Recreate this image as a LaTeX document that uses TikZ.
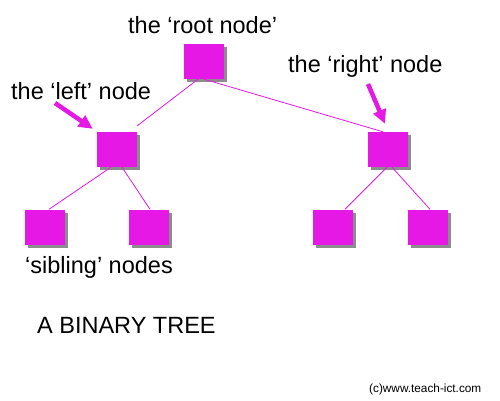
\documentclass[tikz,border=0pt]{standalone}
\usepackage{fontspec}
\setmainfont{Liberation Sans}
\usetikzlibrary{shadows,arrows.meta}
\definecolor{mag}{RGB}{230,24,230}
\begin{document}
\begin{tikzpicture}[x=1pt,y=-1pt,
  tnode/.style={draw=none,fill=mag,minimum width=40pt,minimum height=35pt,inner sep=0pt,
    drop shadow={shadow xshift=3pt,shadow yshift=-3pt,fill=black,opacity=0.45}},
  edge/.style={draw=mag,line width=0.8pt},
  lbl/.style={anchor=base west,inner sep=0pt,font=\fontsize{23.5}{26}\selectfont},
  pointer/.style={draw=mag,line width=4.5pt,-{Triangle[length=14pt,width=13pt]}}]
\useasboundingbox (0,0) rectangle (500,400);
\node[tnode] (root) at (204,61.5) {};
\node[tnode] (left) at (117,149.5) {};
\node[tnode] (right) at (388,149.5) {};
\node[tnode] (l1) at (45,227) {};
\node[tnode] (l2) at (149,227) {};
\node[tnode] (r1) at (333,227) {};
\node[tnode] (r2) at (428,227) {};
\draw[edge] ([xshift=-6pt]root.south) -- ([yshift=6pt]left.north east);
\draw[edge] (root.south) -- ([xshift=-5pt]right.north);
\draw[edge] ([xshift=-6pt]left.south) -- ([xshift=4pt]l1.north);
\draw[edge] ([xshift=5pt]left.south) -- ([xshift=1pt]l2.north);
\draw[edge] ([xshift=-1pt]right.south) -- ([xshift=12pt]r1.north);
\draw[edge] ([xshift=4pt]right.south) -- ([xshift=2pt]r2.north);
\node[lbl] (troot) at (128,33) {the ‘root node’};
\node[lbl] (tright) at (288,72) {the ‘right’ node};
\node[lbl] (tleft) at (11,99) {the ‘left’ node};
\node[lbl] (tsib) at (25,273) {‘sibling’ nodes};
\node[lbl] (ttitle) at (37,333) {A BINARY TREE};
\node[anchor=base west,inner sep=0pt,font=\fontsize{11.8}{13}\selectfont] (copy) at (369,392) {(c)www.teach-ict.com};
\coordinate (a1) at (55,103);
\coordinate (a2) at (368,84);
\draw[pointer] (a1) -- ([shift={(-4pt,3pt)}]left.north west);
\draw[pointer] (a2) -- ([shift={(-3pt,8pt)}]right.north);
\end{tikzpicture}
\end{document}
